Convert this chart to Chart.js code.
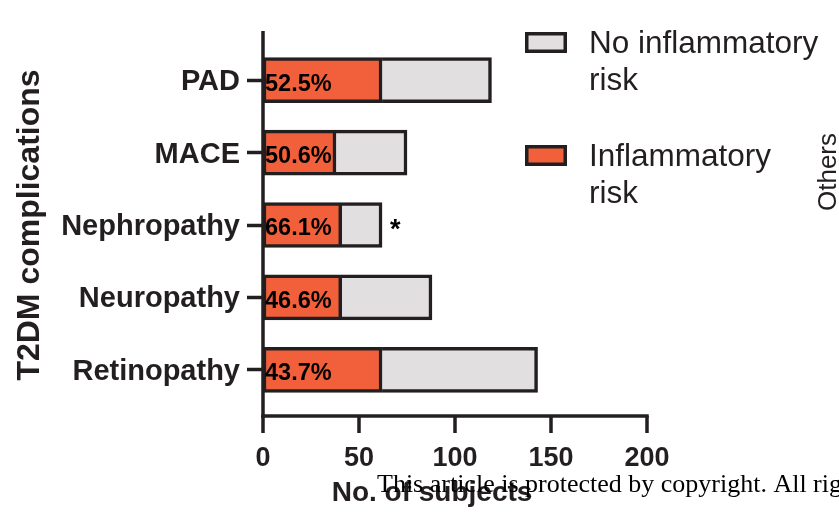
<!DOCTYPE html>
<html><head><meta charset="utf-8">
<script src="https://cdn.jsdelivr.net/npm/chart.js@4"></script>
<style>html,body{margin:0;padding:0;background:#fff;overflow:hidden}</style>
</head><body>
<canvas id="c" width="839" height="518" style="display:block;width:839px;height:518px"></canvas>
<script>
const categories = ["PAD", "MACE", "Nephropathy", "Neuropathy", "Retinopathy"];
const inflammatoryRisk = [62, 38, 41, 41, 62];
const noInflammatoryRisk = [57, 37, 21, 47, 81];
const percentLabels = ["52.5%", "50.6%", "66.1%", "46.6%", "43.7%"];
const significanceMarks = ["", "", "*", "", ""];
const xTickValues = [0, 50, 100, 150, 200];
const legendNoRisk = ["No inflammatory", "risk"];
const legendRisk = ["Inflammatory", "risk"];
const xAxisTitle = "No. of subjects";
const yAxisTitle = "T2DM complications";
const sideText = "Others";
const watermark = "This article is protected by copyright. All rights reserved.";

const INK = '#231f20';
const ORANGE = '#f2603b';
const GRAY = '#e1dfe0';
const FONT = "'Liberation Sans', Arial, Helvetica, sans-serif";
Chart.defaults.font.family = FONT;

const extras = {
  id: 'extras',
  afterDraw(chart) {
    const ctx = chart.ctx;
    const ca = chart.chartArea;
    const xs = chart.scales.x;
    const axisY = ca.bottom + 10;
    ctx.save();
    ctx.strokeStyle = INK;
    ctx.lineWidth = 3.5;
    ctx.lineCap = 'butt';
    // y axis line
    ctx.beginPath();
    ctx.moveTo(ca.left, 31);
    ctx.lineTo(ca.left, axisY + 1.75);
    ctx.stroke();
    // x axis line
    ctx.beginPath();
    ctx.moveTo(ca.left - 1.75, axisY);
    ctx.lineTo(xs.getPixelForValue(200) + 1.75, axisY);
    ctx.stroke();
    // x ticks
    xTickValues.forEach(v => {
      const px = xs.getPixelForValue(v);
      ctx.beginPath();
      ctx.moveTo(px, axisY);
      ctx.lineTo(px, axisY + 17);
      ctx.stroke();
    });
    // percent labels
    const m0 = chart.getDatasetMeta(1); // inflammatory
    const m1 = chart.getDatasetMeta(0); // no inflammatory
    ctx.fillStyle = '#000';
    ctx.font = "bold 23.5px " + FONT;
    ctx.textBaseline = 'middle';
    ctx.textAlign = 'left';
    m0.data.forEach((bar, i) => {
      ctx.fillText(percentLabels[i], Math.min(bar.x, bar.base) + 2, bar.y + 4);
    });
    ctx.font = "bold 27px " + FONT;
    m1.data.forEach((bar, i) => {
      if (significanceMarks[i]) ctx.fillText(significanceMarks[i], Math.max(bar.x, bar.base) + 8, bar.y + 6);
    });
    // legend
    const drawLegend = (y, color, lines) => {
      ctx.fillStyle = INK;
      ctx.fillRect(525, y, 42, 21);
      ctx.fillStyle = color;
      ctx.fillRect(528.5, y + 3.5, 35, 14);
      ctx.fillStyle = INK;
      ctx.font = "31.5px " + FONT;
      ctx.textBaseline = 'middle';
      ctx.textAlign = 'left';
      lines.forEach((t, k) => ctx.fillText(t, 589, y + 12 + k * 37));
    };
    drawLegend(32, GRAY, legendNoRisk);
    drawLegend(145, ORANGE, legendRisk);
    // side text
    ctx.save();
    ctx.translate(836, 172);
    ctx.rotate(-Math.PI / 2);
    ctx.font = "26px " + FONT;
    ctx.textAlign = 'center';
    ctx.textBaseline = 'alphabetic';
    ctx.fillStyle = INK;
    ctx.fillText(sideText, 0, 0);
    ctx.restore();
    // x title
    ctx.font = "bold 28px " + FONT;
    ctx.textAlign = 'center';
    ctx.textBaseline = 'middle';
    ctx.fillStyle = INK;
    ctx.fillText(xAxisTitle, 432, 493);
    // watermark
    ctx.font = "26px 'Liberation Serif', 'Times New Roman', serif";
    ctx.textAlign = 'left';
    ctx.textBaseline = 'alphabetic';
    ctx.fillStyle = '#000';
    ctx.fillText(watermark, 377, 492);
    ctx.restore();
  }
};

new Chart(document.getElementById('c'), {
  type: 'bar',
  data: {
    labels: categories,
    datasets: [
      {
        label: legendNoRisk.join(' '),
        data: noInflammatoryRisk,
        backgroundColor: GRAY,
        borderColor: INK,
        borderWidth: {top: 3.5, bottom: 3.5, left: 0, right: 3.5},
        borderSkipped: false,
        barThickness: 45,
        stack: 's',
        order: 1
      },
      {
        label: legendRisk.join(' '),
        data: inflammatoryRisk,
        backgroundColor: ORANGE,
        borderColor: INK,
        borderWidth: {top: 3.5, bottom: 3.5, left: 3.5, right: 3.5},
        borderSkipped: false,
        barThickness: 45,
        stack: 's',
        order: 0
      }
    ]
  },
  options: {
    indexAxis: 'y',
    responsive: false,
    animation: false,
    layout: {padding: {top: 44, right: 192, left: 0, bottom: 0}},
    plugins: {legend: {display: false}, tooltip: {enabled: false}},
    scales: {
      x: {
        stacked: true, min: 0, max: 200,
        afterFit(s) { s.height = 112; },
        grid: {display: false, drawTicks: false, tickLength: 0},
        border: {display: false},
        afterBuildTicks(s) { s.ticks = xTickValues.map(v => ({value: v})); },
        ticks: {padding: 36, color: INK, maxRotation: 0, font: {size: 27, weight: 'bold'}}
      },
      y: {
        stacked: true,
        afterFit(s) { s.width = 263; },
        grid: {drawOnChartArea: false, offset: false, tickLength: 16, tickWidth: 3.5, tickColor: INK},
        border: {display: false},
        ticks: {padding: 7, labelOffset: 2, color: INK, font: {size: 29, weight: 'bold'}},
        title: {display: true, text: yAxisTitle, color: INK, font: {size: 32, weight: 'bold'}, padding: {top: 11, bottom: 0}}
      }
    }
  },
  plugins: [extras]
});
</script>
</body></html>
